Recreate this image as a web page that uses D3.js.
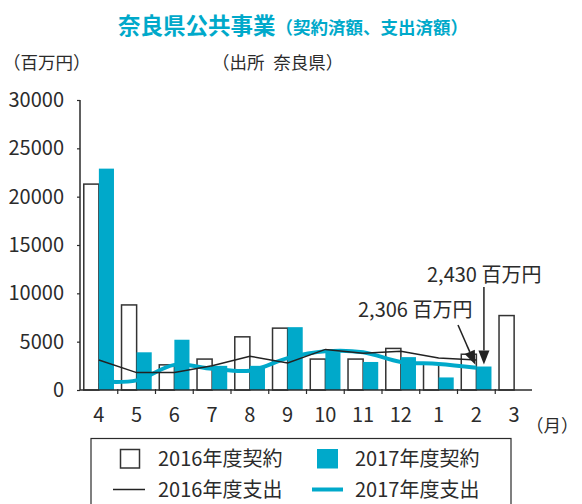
<!DOCTYPE html>
<html>
<head>
<meta charset="utf-8">
<script src="https://cdn.jsdelivr.net/npm/d3@7"></script>
<style>
  body { margin: 0; background: #fff; }
  svg { display: block; }
</style>
</head>
<body>
<div id="canvas"></div>
<script>
/* DATA */
const months = ["4", "5", "6", "7", "8", "9", "10", "11", "12", "1", "2", "3"];
const contract2016 = [21300, 8800, 2600, 3200, 5500, 6400, 3200, 3200, 4300, 2700, 3700, 7700];
const contract2017 = [22900, 3900, 5200, 2500, 2500, 6500, 3900, 2900, 3400, 1300, 2430, null];
const spend2016 = [3100, 1800, 1800, 2500, 3500, 2800, 4200, 3800, 4000, 3300, 3100, null];
const spend2017 = [900, 1000, 2600, 2200, 2000, 3300, 4000, 3900, 2900, 2700, 2306, null];
const yTicks = [0, 5000, 10000, 15000, 20000, 25000, 30000];

/* CANVAS */
const width = 582;
const height = 504;
const cyan = "#00a9ca";
const ink = "#2b2b2b";
const numFont = "'Liberation Sans Narrow', 'Arial Narrow', 'Noto Sans CJK JP', sans-serif";
const cjkFont = "'Noto Sans CJK JP', sans-serif";

const svg = d3.select("#canvas")
    .append("svg")
    .attr("width", width)
    .attr("height", height);

/* SCALES */
const x = d3.scaleBand().domain(months).range([80, 533]);
const sub = d3.scaleBand().domain(["a", "b"]).range([0, x.bandwidth()]).paddingOuter(0.25);
const y = d3.scaleLinear().domain([0, 30000]).range([390, 100]);

/* TITLES */
const title = svg.append("text")
    .attr("x", 118).attr("y", 34)
    .attr("fill", cyan)
    .attr("font-family", cjkFont)
    .attr("font-weight", "bold");
title.append("tspan").attr("font-size", 22.5).text("奈良県公共事業");
title.append("tspan").attr("font-size", 17.5).text("（契約済額、支出済額）");

svg.append("text")
    .attr("x", 3).attr("y", 69)
    .attr("font-family", cjkFont).attr("font-size", 17.5)
    .attr("fill", ink)
    .text("（百万円）");

svg.append("text")
    .attr("x", 212).attr("y", 69)
    .attr("font-family", cjkFont).attr("font-size", 17.5)
    .attr("fill", ink)
    .text("（出所\u2002奈良県）");

/* BARS */
const bars = svg.append("g");
months.forEach(function(m, i) {
    bars.append("rect")
        .attr("x", x(m) + sub("a"))
        .attr("y", y(contract2016[i]))
        .attr("width", sub.bandwidth())
        .attr("height", y(0) - y(contract2016[i]))
        .attr("fill", "#fff")
        .attr("stroke", "#333")
        .attr("stroke-width", 1.5);
    if (contract2017[i] != null) {
        bars.append("rect")
            .attr("x", x(m) + sub("b"))
            .attr("y", y(contract2017[i]))
            .attr("width", sub.bandwidth())
            .attr("height", y(0) - y(contract2017[i]))
            .attr("fill", cyan);
    }
});

/* LINES */
const cx = function(d, i) { return x(months[i]) + x.bandwidth() / 2; };

const line17 = d3.line()
    .defined(function(d) { return d != null; })
    .x(cx).y(function(d) { return y(d); })
    .curve(d3.curveCatmullRom.alpha(0.5));

const line16 = d3.line()
    .defined(function(d) { return d != null; })
    .x(cx).y(function(d) { return y(d); });

svg.append("path")
    .attr("d", line17(spend2017))
    .attr("fill", "none")
    .attr("stroke", cyan)
    .attr("stroke-width", 4);

svg.append("path")
    .attr("d", line16(spend2016))
    .attr("fill", "none")
    .attr("stroke", "#222")
    .attr("stroke-width", 1.5);

/* AXES */
const yAxis = svg.append("g")
    .attr("transform", "translate(80,0)")
    .call(d3.axisLeft(y).tickValues(yTicks).tickSize(3).tickPadding(13).tickFormat(d3.format("d")));
yAxis.select(".domain").attr("stroke", ink).attr("stroke-width", 1.5).attr("d", "M0," + y(30000) + "V" + y(0));
yAxis.selectAll(".tick line").attr("stroke", ink).attr("stroke-width", 1.2);
yAxis.selectAll(".tick text")
    .attr("font-family", numFont).attr("font-size", 20).attr("fill", ink);

const xAxis = svg.append("g")
    .attr("transform", "translate(0," + y(0) + ")");
xAxis.append("line")
    .attr("x1", 80).attr("x2", 532)
    .attr("stroke", ink).attr("stroke-width", 1.5);
xAxis.selectAll(".mtick")
    .data(months.slice(1))
    .enter().append("line")
    .attr("x1", function(d) { return x(d); })
    .attr("x2", function(d) { return x(d); })
    .attr("y1", -1).attr("y2", 4)
    .attr("stroke", ink).attr("stroke-width", 1.2);
xAxis.selectAll(".mlabel")
    .data(months)
    .enter().append("text")
    .attr("x", function(d) { return x(d) + x.bandwidth() / 2; })
    .attr("y", 32)
    .attr("text-anchor", "middle")
    .attr("font-family", numFont).attr("font-size", 20).attr("fill", ink)
    .text(function(d) { return d; });

svg.append("text")
    .attr("x", 526).attr("y", 432)
    .attr("font-family", cjkFont).attr("font-size", 17.5).attr("fill", ink)
    .text("（月）");

/* ANNOTATIONS */
function arrow(x1, y1, x2, y2) {
    const a = Math.atan2(y2 - y1, x2 - x1);
    const len = 14, half = 5.5;
    const bx = x2 - len * Math.cos(a), by = y2 - len * Math.sin(a);
    svg.append("line")
        .attr("x1", x1).attr("y1", y1).attr("x2", bx).attr("y2", by)
        .attr("stroke", "#222").attr("stroke-width", 1.5);
    svg.append("path")
        .attr("d", "M" + x2 + "," + y2 +
            "L" + (bx + half * Math.sin(a)) + "," + (by - half * Math.cos(a)) +
            "L" + (bx - half * Math.sin(a)) + "," + (by + half * Math.cos(a)) + "Z")
        .attr("fill", "#222");
}

const feb = months.indexOf("2");
const barMid = x("2") + sub("b") + sub.bandwidth() / 2;
arrow(barMid, 287, barMid, y(contract2017[feb]) - 2);
arrow(458, 325, cx(null, feb) - 1, y(spend2017[feb]) - 3);

svg.append("text")
    .attr("x", 427).attr("y", 282)
    .attr("font-family", numFont).attr("font-size", 20).attr("fill", ink)
    .text("2,430 百万円");

svg.append("text")
    .attr("x", 358).attr("y", 317)
    .attr("font-family", numFont).attr("font-size", 20).attr("fill", ink)
    .text("2,306 百万円");

/* LEGEND */
const legend = svg.append("g");
legend.append("rect")
    .attr("x", 91).attr("y", 438.5)
    .attr("width", 420).attr("height", 80)
    .attr("fill", "#fff").attr("stroke", ink).attr("stroke-width", 1.2);

legend.append("rect")
    .attr("x", 120.5).attr("y", 449.5).attr("width", 19).attr("height", 18.5)
    .attr("fill", "#fff").attr("stroke", "#333").attr("stroke-width", 1.5);
legend.append("rect")
    .attr("x", 317).attr("y", 449).attr("width", 21).attr("height", 19.5)
    .attr("fill", cyan);
legend.append("line")
    .attr("x1", 113).attr("x2", 145).attr("y1", 489.5).attr("y2", 489.5)
    .attr("stroke", "#222").attr("stroke-width", 1.5);
legend.append("line")
    .attr("x1", 312).attr("x2", 343).attr("y1", 489.5).attr("y2", 489.5)
    .attr("stroke", cyan).attr("stroke-width", 4);

const legendItems = [
    { t: "2016年度契約", x: 158, y: 466 },
    { t: "2017年度契約", x: 355, y: 466 },
    { t: "2016年度支出", x: 158, y: 497 },
    { t: "2017年度支出", x: 355, y: 497 }
];
legendItems.forEach(function(d) {
    legend.append("text")
        .attr("x", d.x).attr("y", d.y)
        .attr("font-family", numFont).attr("font-size", 20).attr("fill", ink)
        .text(d.t);
});
</script>
</body>
</html>
